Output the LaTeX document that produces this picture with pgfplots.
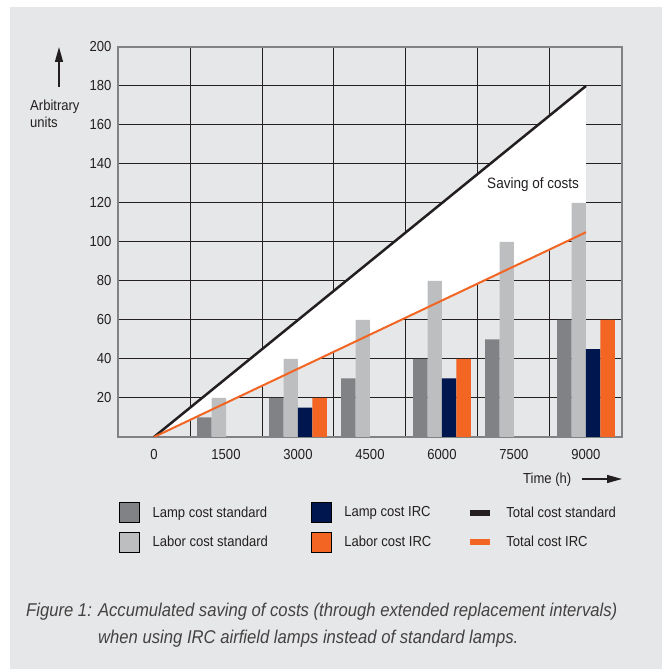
\documentclass[border=0pt]{standalone}
\usepackage{fontspec}
\setmainfont{Liberation Sans}[FakeStretch=0.9]
\newfontfamily\capfont{Liberation Sans}[FakeStretch=0.9]
\usepackage{pgfplots}
\pgfplotsset{compat=1.18}
\usetikzlibrary{arrows.meta}

\definecolor{bg}{HTML}{E6E7E8}
\definecolor{lampstd}{HTML}{808285}
\definecolor{laborstd}{HTML}{BCBEC0}
\definecolor{lampirc}{HTML}{00164F}
\definecolor{laborirc}{HTML}{F26522}
\definecolor{ink}{HTML}{231F20}

\newcommand{\lbl}{\fontsize{14.5}{17}\selectfont}

\pgfplotsset{
  legsq/.style={legend image code/.code={\fill[##1] (0pt,-10pt) rectangle (20pt,10pt);}},
  legln/.style={legend image code/.code={\draw[##1, line width=6pt] (0pt,0pt) -- (20pt,0pt);}},
}

\begin{document}
\begin{tikzpicture}[x=1pt,y=1pt]
\useasboundingbox (0,0) rectangle (662,669);
\fill[bg] (10,0) rectangle (662,662);

% y axis description with arrow
\draw[ink, line width=1.3pt, -{Triangle[width=8pt,length=15pt]}] (59,582) -- (59,622);
\node[anchor=base west, inner sep=0pt, text=ink, font=\lbl] at (30,558) {Arbitrary};
\node[anchor=base west, inner sep=0pt, text=ink, font=\lbl] at (30,541) {units};

% x axis description with arrow
\node[anchor=base west, inner sep=0pt, text=ink, font=\lbl] at (523,185) {Time (h)};
\draw[ink, line width=1.3pt, -{Triangle[width=8pt,length=15pt]}] (582,190) -- (622,190);

\begin{axis}[
  at={(118pt,232pt)}, anchor=south west,
  scale only axis, width=504pt, height=390pt,
  xmin=-0.5, xmax=6.5, ymin=0, ymax=200,
  xtick={0,...,6},
  xticklabels={0,1500,3000,4500,6000,7500,9000},
  minor xtick={0.5,1.5,...,5.5},
  ytick={20,40,...,200},
  xmajorgrids=false, xminorgrids, ymajorgrids,
  grid style={ink, line width=1pt},
  minor grid style={ink, line width=1pt},
  major tick length=0pt, minor tick length=0pt,
  axis line style={draw=lampstd, line width=1.5pt},
  tick label style={font=\lbl, text=ink},
  xticklabel style={yshift=-9pt},
  yticklabel style={xshift=-3pt},
  /pgf/number format/assume math mode=true,
  legend columns=3,
  legend style={at={(0.002,-0.167)}, anchor=north west, draw=none, fill=none,
    inner sep=0pt, font=\lbl, text=ink, row sep=9pt,
    cells={anchor=west},
    /tikz/every odd column/.append style={column sep=11pt},
    /tikz/every even column/.append style={column sep=34pt}},
]
% saving area between the two totals
\addplot[fill=white, draw=none, forget plot] coordinates {(0,0) (6,180) (6,105)} -- cycle;

\addplot[ybar, bar width=0.2, bar shift=-0.3, fill=lampstd, draw=none, forget plot]
  coordinates {(1,10) (2,20) (3,30) (4,40) (5,50) (6,60)};
\addplot[ybar, bar width=0.2, bar shift=-0.1, fill=laborstd, draw=none, forget plot]
  coordinates {(1,20) (2,40) (3,60) (4,80) (5,100) (6,120)};
\addplot[ybar, bar width=0.2, bar shift=0.1, fill=lampirc, draw=none, forget plot]
  coordinates {(2,15) (4,30) (6,45)};
\addplot[ybar, bar width=0.2, bar shift=0.3, fill=laborirc, draw=none, forget plot]
  coordinates {(2,20) (4,40) (6,60)};

\addplot[ink, line width=2.5pt, no marks, forget plot] coordinates {(0,0) (6,180)};
\addplot[laborirc, line width=2pt, no marks, forget plot] coordinates {(0,0) (6,105)};

\node[anchor=base east, inner sep=0pt, xshift=-7pt, text=ink, font=\fontsize{15}{18}\selectfont] at (axis cs:6,127.5) {Saving of costs};

\addlegendimage{legsq, fill=lampstd}\addlegendentry{Lamp cost standard\kern7pt}
\addlegendimage{legsq, fill=lampirc}\addlegendentry{Lamp cost IRC}
\addlegendimage{legln, ink}\addlegendentry{Total cost standard}
\addlegendimage{legsq, fill=laborstd}\addlegendentry{Labor cost standard\kern7pt}
\addlegendimage{legsq, fill=laborirc}\addlegendentry{Labor cost IRC}
\addlegendimage{legln, laborirc}\addlegendentry{Total cost IRC}
\end{axis}

% caption
\node[anchor=base west, inner sep=0pt, text=ink!85, font=\capfont\itshape\fontsize{18.5}{22}\selectfont] at (26,52)
  {Figure 1: Accumulated saving of costs (through extended replacement intervals)};
\node[anchor=base west, inner sep=0pt, text=ink!85, font=\capfont\itshape\fontsize{18.5}{22}\selectfont] at (98,25)
  {when using IRC airfield lamps instead of standard lamps.};
\end{tikzpicture}
\end{document}
